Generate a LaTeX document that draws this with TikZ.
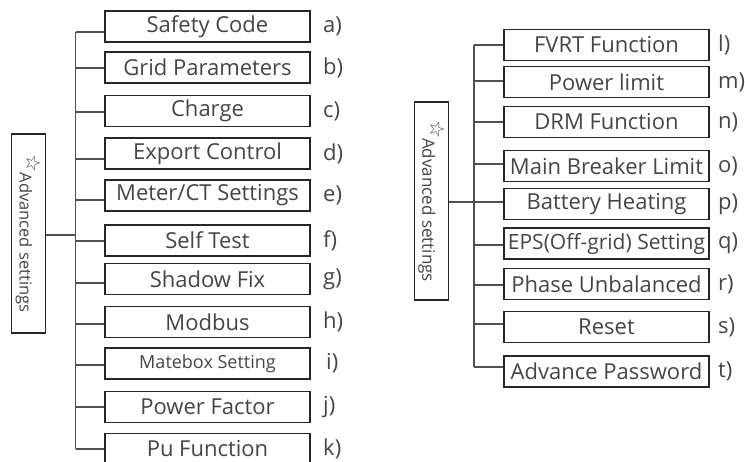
\documentclass[tikz,border=0pt]{standalone}
\usepackage{fontspec}
\setmainfont{Open Sans}
\newfontfamily\symfont{DejaVu Sans}
\definecolor{txt}{HTML}{454545}
\definecolor{edge}{HTML}{262626}
\definecolor{wire}{HTML}{505050}
\begin{document}
\begin{tikzpicture}[x=1pt,y=-1pt,
  item/.style={draw=edge,line width=1.5pt,minimum width=205pt,minimum height=31pt,inner sep=0pt,text=txt,font=\fontsize{22}{24}\selectfont},
  lbl/.style={anchor=west,text=txt,inner sep=0pt,font=\fontsize{22}{24}\selectfont},
  root/.style={draw=edge,line width=1.3pt,minimum width=34pt,inner sep=0pt,text=txt},
  wireline/.style={draw=wire,line width=1.1pt}]
\useasboundingbox (0,0) rectangle (745,462);
% ---------- left tree ----------
\node[root,minimum height=199pt] (L) at (28.5,233.5) {};
\node[rotate=-90,text=txt,font=\fontsize{16.5}{18}\selectfont] (Ltxt) at (L.center) {\raisebox{0.45em}{\symfont\fontsize{20}{20}\selectfont ☆}Advanced settings};
\foreach \n/\y/\t/\l in {a/26.5/Safety Code/a),b/67.5/Grid Parameters/b),c/111/Charge/c),d/153.5/Export Control/d),e/195.5/Meter\slash CT Settings/e),f/240.5/Self Test/f),g/279/Shadow Fix/g),h/322/Modbus/h),j/407/Power Factor/j),k/449/Pu Function/k)}{
  \node[item] (\n) at (207.5,\y) {\t};
  \node[lbl] (\n l) at (323,\y) {\l};
}
\node[item,font=\fontsize{18}{20}\selectfont] (i) at (207.5,363.5) {Matebox Setting};
\node[lbl] (il) at (326,363.5) {i)};
\foreach \n/\y in {a/32,b/68,c/112,d/159,e/200,f/241,g/283,h/324,i/365,j/407,k/449}{
  \coordinate (t\n) at (75.5,\y);
  \draw[wireline] (t\n) -- (t\n -| \n.west);
}
\draw[wireline] (ta) -- (tk);
\coordinate (Lj) at (75.5,235);
\draw[wireline] (Lj -| L.east) -- (Lj);
% ---------- right tree ----------
\node[root,minimum height=198pt] (R) at (431.5,201) {};
\node[rotate=-90,text=txt,font=\fontsize{17}{18}\selectfont] (Rtxt) at (R.center) {\raisebox{0.45em}{\symfont\fontsize{20}{20}\selectfont ☆}Advanced settings};
\foreach \n/\y/\t/\l in {l/45/FVRT Function/l),m/82/Power limit/m),n/122/DRM Function/n),o/166/Main Breaker Limit/o),p/204/Battery Heating/p),r/284/Phase Unbalanced/r),s/327/Reset/s),t/371.5/Advance Password/t)}{
  \node[item] (\n) at (606.5,\y) {\t};
  \node[lbl] (\n l) at (718,\y) {\l};
}
\node[item,font=\fontsize{21}{22}\selectfont] (q) at (606.5,243.5) {EPS(Off-grid) Setting};
\node[lbl] (ql) at (718,243.5) {q)};
\foreach \n/\y in {l/45,m/81,n/122,o/164,p/202,q/245,r/285,s/324,t/367}{
  \coordinate (t\n) at (474,\y);
  \draw[wireline] (t\n) -- (t\n -| \n.west);
}
\draw[wireline] (tl) -- (tt);
\coordinate (Rj) at (474,202);
\draw[wireline] (Rj -| R.east) -- (Rj);
\end{tikzpicture}
\end{document}
